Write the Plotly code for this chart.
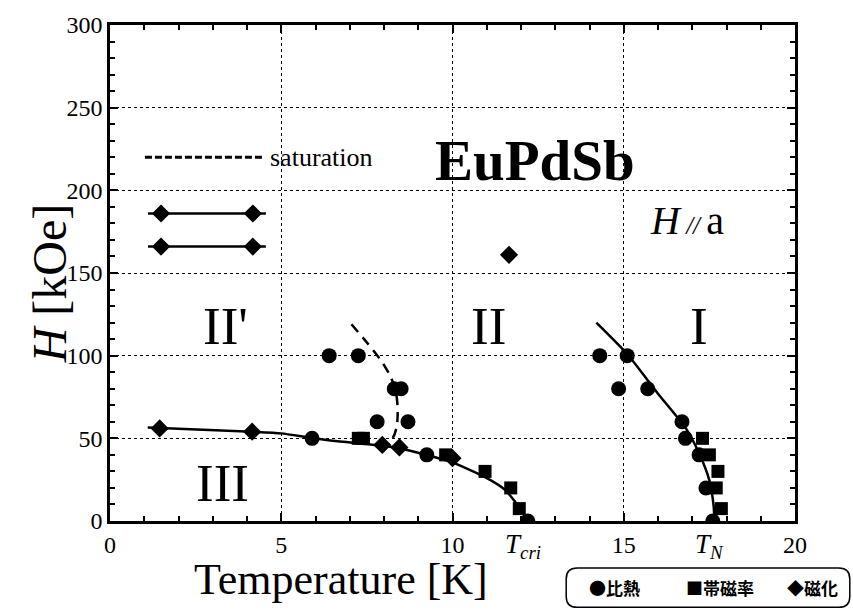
import plotly.graph_objects as go

# ---- measured points ----
# specific heat (比熱)
heat_T = [5.9, 6.4, 7.25, 7.8, 8.3, 8.5, 8.7, 9.25, 12.2,
          14.3, 14.85, 15.1, 15.7, 16.7, 16.8, 17.2, 17.4, 17.6]
heat_H = [50, 100, 100, 60, 80, 80, 60, 40, 0,
          100, 80, 100, 80, 60, 50, 40, 20, 0]

# susceptibility (帯磁率)
susc_T = [7.25, 7.4, 9.8, 10.95, 11.7, 11.95, 17.3, 17.5, 17.75, 17.7, 17.85]
susc_H = [50, 50, 40, 30, 20, 7.5, 50, 40, 30, 20, 7.5]

# magnetization (磁化)
mag_T = [1.45, 4.15, 7.95, 8.45, 10.0, 11.65]
mag_H = [56, 54, 46, 44.5, 38, 161]

# ---- phase boundaries ----
bIII_T = [1.1, 4.15, 5.0, 5.85, 6.5, 7.9, 8.45, 9.95, 10.95, 11.55, 11.85, 12.05, 12.15]
bIII_H = [56.5, 54, 53, 50.3, 48.5, 45.7, 44, 35.8, 26.5, 18.6, 11, 5, 0]

bI_T = [14.2, 15.1, 16.0, 16.8, 17.2, 17.5, 17.62, 17.65]
bI_H = [120, 101, 77, 56.5, 41, 24.6, 10, 0]

sat_T = [7.05, 7.5, 7.95, 8.2, 8.35, 8.4, 8.38, 8.3, 8.1]
sat_H = [119, 108, 96, 87, 78, 68, 58, 52, 45]

# ---- key glyphs (top-left) ----
key_dash_T = [1.02, 4.44]
key_dash_H = [220, 220]
key_line_T = [1.11, 4.55]
key_line_H = [[186, 186], [166, 166]]
key_mark_T = [1.49, 4.17]

SERIF = "Liberation Serif, Times New Roman, serif"
CJK = "Noto Sans CJK JP, sans-serif"

fig = go.Figure()

fig.add_trace(go.Scatter(x=bIII_T, y=bIII_H, mode="lines",
                         line=dict(color="black", width=2.5, shape="spline", smoothing=0.6)))
fig.add_trace(go.Scatter(x=bI_T, y=bI_H, mode="lines",
                         line=dict(color="black", width=2.5, shape="spline", smoothing=0.6)))
fig.add_trace(go.Scatter(x=sat_T, y=sat_H, mode="lines",
                         line=dict(color="black", width=2.5, dash="10px,7px",
                                   shape="spline", smoothing=0.6)))

fig.add_trace(go.Scatter(x=heat_T, y=heat_H, mode="markers",
                         marker=dict(symbol="circle", size=15, color="black")))
fig.add_trace(go.Scatter(x=susc_T, y=susc_H, mode="markers",
                         marker=dict(symbol="square", size=13, color="black")))
fig.add_trace(go.Scatter(x=mag_T, y=mag_H, mode="markers",
                         marker=dict(symbol="diamond", size=14, color="black")))

# key glyphs
fig.add_trace(go.Scatter(x=key_dash_T, y=key_dash_H, mode="lines",
                         line=dict(color="black", width=3, dash="7px,3px")))
for yy in key_line_H:
    fig.add_trace(go.Scatter(x=key_line_T, y=yy, mode="lines",
                             line=dict(color="black", width=2.5)))
    fig.add_trace(go.Scatter(x=key_mark_T, y=yy, mode="markers",
                             marker=dict(symbol="diamond", size=14, color="black")))

ann = []
def text(x, y, s, size, xref="x", yref="y", xanchor="center", font=SERIF, color="black"):
    ann.append(dict(x=x, y=y, xref=xref, yref=yref, text=s, showarrow=False,
                    xanchor=xanchor, yanchor="middle",
                    font=dict(family=font, size=size, color=color)))

text(4.61, 220, "saturation", 26, xanchor="left")
text(12.4, 218, "<b>EuPdSb</b>", 57)
text(16.85, 182, "<i>H</i><span style='font-size:25px'><i> // </i></span>a", 40)
text(3.36, 118, "II'", 53)
text(11.04, 118, "II", 53)
text(17.2, 118, "I", 53)
text(3.27, 23, "III", 53)
text(12.06, -0.05, "<i>T</i><sub><i>cri</i></sub>", 27, yref="paper")
text(17.5, -0.05, "<i>T</i><sub><i>N</i></sub>", 27, yref="paper")

# axis titles
text(0.337, -0.118, "Temperature [K]", 44, xref="paper", yref="paper")
ann.append(dict(x=-0.13, y=0.48, xref="paper", yref="paper", showarrow=False,
                text="<i>H</i> [kOe]", textangle=-90,
                font=dict(family=SERIF, size=48, color="black")))

# bottom-right key
text(0.737, -0.135, "<b>●比熱</b>", 17, xref="paper", yref="paper", font=CJK)
text(0.891, -0.135, "<b>■帯磁率</b>", 17, xref="paper", yref="paper", font=CJK)
text(1.025, -0.135, "<b>◆磁化</b>", 17, xref="paper", yref="paper", font=CJK)

x0, x1, y0, y1 = 0.666, 1.08, -0.095, -0.174
rx, ry = 0.016, 0.022
path = (f"M {x0+rx},{y0} L {x1-rx},{y0} Q {x1},{y0} {x1},{y0-ry} "
        f"L {x1},{y1+ry} Q {x1},{y1} {x1-rx},{y1} L {x0+rx},{y1} "
        f"Q {x0},{y1} {x0},{y1+ry} L {x0},{y0-ry} Q {x0},{y0} {x0+rx},{y0} Z")

fig.update_layout(
    width=853, height=611,
    margin=dict(l=110, r=58, t=22, b=90),
    paper_bgcolor="white", plot_bgcolor="white",
    showlegend=False,
    annotations=ann,
    shapes=[dict(type="path", path=path, xref="paper", yref="paper",
                 line=dict(color="black", width=1.5))],
    font=dict(family=SERIF, color="black"),
)

axis_common = dict(
    showline=True, linecolor="black", linewidth=2.5, mirror="allticks",
    ticks="inside", ticklen=8, tickwidth=2, tickcolor="black",
    showgrid=True, gridcolor="black", gridwidth=1, griddash="dot",
    zeroline=False, tickfont=dict(family=SERIF, size=24, color="black"),
)
fig.update_xaxes(range=[0, 20], dtick=5, tick0=0,
                 minor=dict(ticks="inside", dtick=1, ticklen=5, tickcolor="black", showgrid=False),
                 **axis_common)
fig.update_yaxes(range=[0, 300], dtick=50, tick0=0,
                 minor=dict(ticks="inside", dtick=10, ticklen=5, tickcolor="black", showgrid=False),
                 **axis_common)

fig.write_html("out.html")
